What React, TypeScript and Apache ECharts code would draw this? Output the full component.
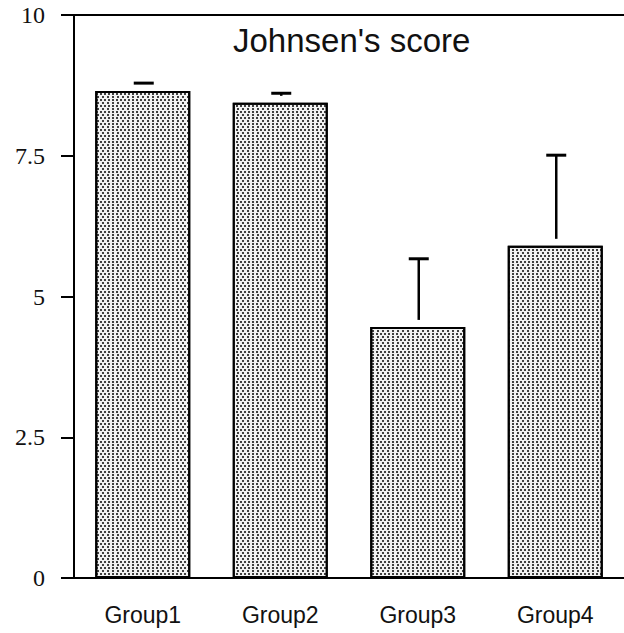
import React, { useEffect, useRef } from "react";
import * as echarts from "echarts";

const categories = ["Group1", "Group2", "Group3", "Group4"];
const means = [8.65, 8.44, 4.46, 5.9];
const upper = [8.79, 8.61, 5.67, 7.51];
const yTicks = [0, 2.5, 5, 7.5, 10];
const title = "Johnsen's score";

export default function App() {
  const ref = useRef<HTMLDivElement>(null);
  useEffect(() => {
    if (!ref.current) return;
    const chart = echarts.init(ref.current, null, { renderer: "svg" });
    const errData = categories.map((_, i) => [i, means[i], upper[i]]);
    chart.setOption({
      animation: false,
      backgroundColor: "#ffffff",
      title: {
        text: title,
        left: 233,
        top: 24,
        padding: 0,
        textStyle: {
          fontFamily: "Liberation Sans",
          fontSize: 33,
          fontWeight: "normal",
          color: "#111",
        },
      },
      grid: { left: 74, right: -3, top: 15, bottom: 55 },
      xAxis: [
        {
          type: "category",
          data: categories,
          axisLine: { lineStyle: { color: "#000", width: 2 } },
          axisTick: { alignWithLabel: true, length: 14, lineStyle: { color: "#000", width: 2 } },
          axisLabel: {
            margin: 25,
            fontFamily: "Liberation Sans",
            fontSize: 23,
            color: "#111",
          },
        },
        {
          type: "category",
          data: categories,
          position: "top",
          axisLine: { lineStyle: { color: "#000", width: 2 } },
          axisTick: { show: false },
          axisLabel: { show: false },
        },
      ],
      yAxis: {
        type: "value",
        min: yTicks[0],
        max: yTicks[yTicks.length - 1],
        interval: 2.5,
        splitLine: { show: false },
        axisLine: { show: true, lineStyle: { color: "#000", width: 2 } },
        axisTick: { show: true, length: 13, lineStyle: { color: "#000", width: 2 } },
        axisLabel: {
          margin: 29,
          fontFamily: "Liberation Serif",
          fontSize: 24,
          color: "#111",
        },
      },
      series: [
        {
          type: "bar",
          data: means,
          barWidth: 95,
          itemStyle: {
            color: "#f2f2f2",
            borderColor: "#000",
            borderWidth: 2,
            decal: {
              symbol: "rect",
              symbolSize: 1,
              color: "rgba(20,20,20,0.8)",
              dashArrayX: [[1.3, 2], [0, 1.65, 1.3, 0.35]],
              dashArrayY: [1.3, 0.4],
              rotation: 0,
            },
          },
        },
        {
          type: "custom",
          data: errData,
          encode: { x: 0, y: 2 },
          renderItem: (params: any, api: any) => {
            const i = api.value(0);
            const top = api.coord([i, api.value(2)]);
            const base = api.coord([i, api.value(1)]);
            const cx = top[0] + 1;
            const children: any[] = [
              {
                type: "line",
                shape: { x1: cx - 10, y1: top[1], x2: cx + 10, y2: top[1] },
                style: { stroke: "#000", lineWidth: 3 },
              },
            ];
            const bottom = base[1] - 7;
            if (bottom > top[1] + 1) {
              children.push({
                type: "line",
                shape: { x1: cx, y1: top[1], x2: cx, y2: bottom },
                style: { stroke: "#000", lineWidth: 2.5 },
              });
            }
            return { type: "group", children };
          },
        },
      ],
    });
    return () => chart.dispose();
  }, []);
  return (
    <div
      ref={ref}
      style={{ position: "absolute", left: 0, top: 0, width: 624, height: 633 }}
    />
  );
}
